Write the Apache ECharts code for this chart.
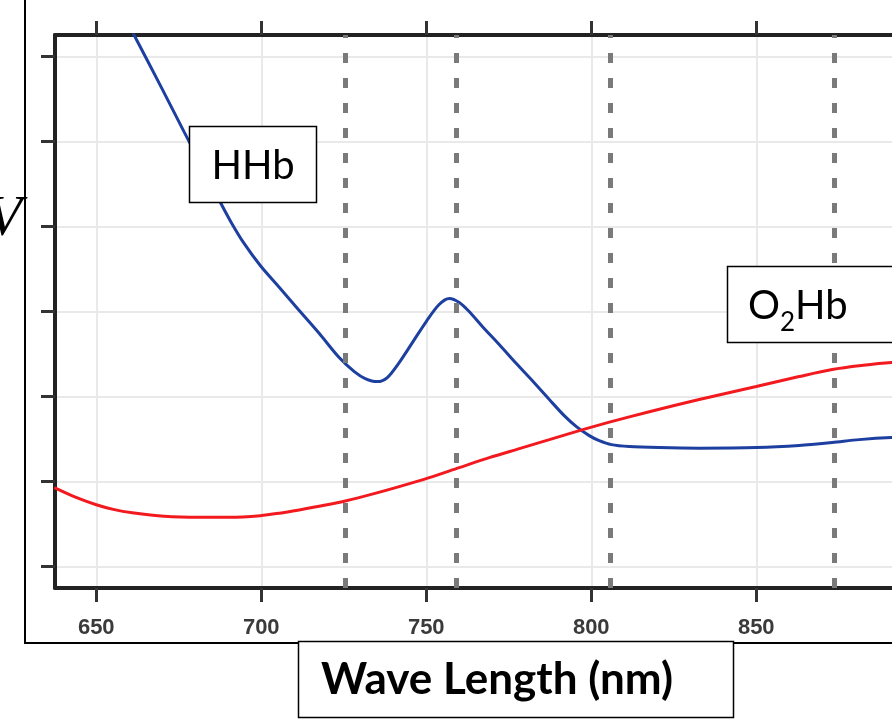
<!DOCTYPE html>
<html>
<head>
<meta charset="utf-8">
<script src="https://cdn.jsdelivr.net/npm/echarts@6/dist/echarts.min.js"></script>
<style>
html,body{margin:0;padding:0;background:#fff;overflow:hidden;}
#chart{width:960px;height:720px;}
</style>
</head>
<body>
<div id="chart"></div>
<script>
// Wavelength (nm) and relative absorption values
const hhbWavelengths = [655, 661.5, 669.1, 676.7, 684.2, 687.3, 690.9, 694.8, 699.7, 705.5, 711.5, 717.6, 723.6, 728.2, 731.5, 735.2, 738.2, 741.8, 745.8, 750.0, 753.9, 757.0, 760.0, 763.0, 767.0, 772.1, 777.3, 782.1, 787.3, 791.8, 795.5, 799.4, 802.4, 806.1, 811.5, 820.6, 832.7, 850.0, 863.0, 873.0, 881.2, 890.9, 905];
const hhbValues      = [6.74, 6.247, 5.682, 5.106, 4.541, 4.306, 4.047, 3.800, 3.541, 3.282, 3.012, 2.741, 2.459, 2.294, 2.212, 2.176, 2.224, 2.400, 2.635, 2.882, 3.082, 3.153, 3.106, 3.000, 2.824, 2.612, 2.388, 2.188, 1.965, 1.776, 1.647, 1.541, 1.482, 1.435, 1.412, 1.400, 1.394, 1.400, 1.424, 1.459, 1.494, 1.518, 1.53];
const o2hbWavelengths = [637.3, 643.3, 650, 655.5, 660.9, 670.6, 681.2, 690.3, 699.7, 705.5, 711.5, 719.1, 725.8, 734.2, 741.8, 750.9, 760.0, 769.1, 778.2, 787.3, 796.4, 805.5, 817.6, 832.7, 850.0, 863.0, 873.0, 881.8, 890.9, 905];
const o2hbValues      = [0.929, 0.824, 0.729, 0.671, 0.635, 0.594, 0.582, 0.582, 0.600, 0.629, 0.668, 0.722, 0.776, 0.859, 0.941, 1.047, 1.165, 1.282, 1.388, 1.494, 1.600, 1.700, 1.822, 1.965, 2.118, 2.235, 2.318, 2.365, 2.400, 2.42];
const xTickValues = [650, 700, 750, 800, 850, 900];
const yTickValues = [0, 1, 2, 3, 4, 5, 6];
const dashedWavelengths = [725.5, 759, 805.8, 873.6];
const xTitle = 'Wave Length (nm)';
const yTitle = 'V';
const hhbLabel = 'HHb';

const chart = echarts.init(document.getElementById('chart'), null, {renderer: 'canvas'});
const xMin = 637.5, xMax = 905, yMin = -0.25, yMax = 6.25;

const axisCommon = {
  type: 'value', min: xMin, max: xMax,
  axisLine: {show: true, onZero: false, lineStyle: {color: '#222', width: 4}},
  axisTick: {show: true, inside: false, length: 14, lineStyle: {color: '#333', width: 3}, customValues: xTickValues},
};

chart.setOption({
  animation: false,
  grid: {left: 55, right: 22.25, top: 35, bottom: 132, containLabel: false},
  xAxis: [
    Object.assign({}, axisCommon, {
      position: 'bottom',
      axisLabel: {show: true, customValues: xTickValues, margin: 29, color: '#3a3a3a', fontFamily: 'Liberation Sans', fontWeight: 'bold', fontSize: 22},
      splitLine: {show: true, lineStyle: {color: '#e9e9e9', width: 2}}
    }),
    Object.assign({}, axisCommon, {
      position: 'top',
      axisLabel: {show: false},
      splitLine: {show: false}
    })
  ],
  yAxis: [{
    type: 'value', min: yMin, max: yMax,
    axisLine: {show: true, onZero: false, lineStyle: {color: '#222', width: 4}},
    axisTick: {show: true, inside: false, length: 14, lineStyle: {color: '#333', width: 3}, customValues: yTickValues},
    axisLabel: {show: false, customValues: yTickValues},
    splitLine: {show: true, lineStyle: {color: '#e9e9e9', width: 2}}
  }],
  series: [
    {
      type: 'line', name: 'markers', data: [], silent: true, z: 1,
      markLine: {
        silent: true, symbol: ['none', 'none'], label: {show: false},
        lineStyle: {color: '#7a7a7a', width: 5, type: [10, 15]},
        data: dashedWavelengths.map(v => ({xAxis: v}))
      }
    },
    {
      type: 'line', name: 'HHb', z: 3,
      data: hhbWavelengths.map((w, i) => [w, hhbValues[i]]),
      smooth: 0.3, showSymbol: false, clip: true,
      lineStyle: {color: '#1d3fa0', width: 3}
    },
    {
      type: 'line', name: 'O2Hb', z: 3,
      data: o2hbWavelengths.map((w, i) => [w, o2hbValues[i]]),
      smooth: 0.3, showSymbol: false, clip: true,
      lineStyle: {color: '#f21a1f', width: 3}
    }
  ],
  graphic: [
    {type: 'line', shape: {x1: 25, y1: 0, x2: 25, y2: 643}, style: {stroke: '#000', lineWidth: 2}, z: 10},
    {type: 'line', shape: {x1: 24, y1: 643, x2: 960, y2: 643}, style: {stroke: '#000', lineWidth: 2}, z: 10},
    {type: 'text', x: 22, y: 220, style: {text: yTitle, fontFamily: 'Liberation Serif', fontStyle: 'italic', fontSize: 58, fill: '#000', align: 'right', verticalAlign: 'middle'}, z: 10},
    {type: 'rect', shape: {x: 189.5, y: 126.5, width: 127, height: 76}, style: {fill: '#fff', stroke: '#000', lineWidth: 1.5}, z: 20},
    {type: 'text', x: 253, y: 166, style: {text: hhbLabel, fontFamily: 'Lato', fontSize: 40, fill: '#000', align: 'center', verticalAlign: 'middle'}, z: 21},
    {type: 'rect', shape: {x: 727.5, y: 266.5, width: 300, height: 76}, style: {fill: '#fff', stroke: '#000', lineWidth: 1.5}, z: 20},
    {type: 'text', x: 748, y: 306, style: {
      text: '{a|O}{s|2}{a|Hb}',
      align: 'left', verticalAlign: 'middle',
      rich: {
        a: {fontFamily: 'Lato', fontSize: 40, fill: '#000', verticalAlign: 'bottom'},
        s: {fontFamily: 'Lato', fontSize: 26, fill: '#000', verticalAlign: 'bottom', padding: [0, 0, -10, 0]}
      }
    }, z: 21},
    {type: 'rect', shape: {x: 298.5, y: 641.5, width: 435, height: 76}, style: {fill: '#fff', stroke: '#000', lineWidth: 1.5}, z: 20},
    {type: 'text', x: 497, y: 680, style: {text: xTitle, fontFamily: 'Lato', fontWeight: 'bold', fontSize: 44, fill: '#000', align: 'center', verticalAlign: 'middle'}, z: 21}
  ]
});
</script>
</body>
</html>
